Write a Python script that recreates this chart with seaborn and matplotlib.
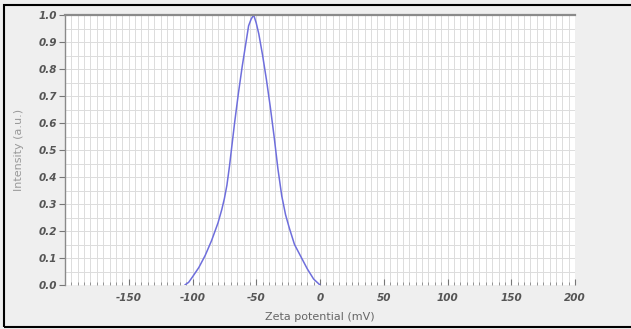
import matplotlib
matplotlib.use("Agg")
import matplotlib.pyplot as plt
from matplotlib.patches import Rectangle
from matplotlib.ticker import MultipleLocator, FixedLocator
import seaborn as sns
import pandas as pd

zeta_mv = [-106, -103, -100, -95, -90, -85, -80, -77, -75, -73, -71, -69, -67, -64, -61, -58,
           -56, -54, -52, -50, -48, -45, -42, -39, -36, -33, -30, -27, -24, -20, -15, -10, -5, 0]
intensity = [0.0, 0.01, 0.03, 0.065, 0.11, 0.165, 0.23, 0.28, 0.32, 0.37, 0.44, 0.52, 0.60, 0.71,
             0.81, 0.90, 0.96, 0.985, 1.0, 0.97, 0.93, 0.85, 0.76, 0.66, 0.55, 0.43, 0.33, 0.26,
             0.21, 0.15, 0.105, 0.06, 0.022, 0.0]
x_ticks = [-150, -100, -50, 0, 50, 100, 150, 200]
y_ticks = [0.0, 0.1, 0.2, 0.3, 0.4, 0.5, 0.6, 0.7, 0.8, 0.9, 1.0]

df = pd.DataFrame({"zeta": zeta_mv, "intensity": intensity})

sns.set_style("white")
fig = plt.figure(figsize=(6.31, 3.29), dpi=100, facecolor="#efefef")
ax = fig.add_axes([65/631, 44/329, 510/631, 270/329])
ax.set_facecolor("white")

sns.lineplot(data=df, x="zeta", y="intensity", ax=ax, color="#6e6edc", linewidth=1.1)

ax.set_xlim(-200, 200)
ax.set_ylim(0, 1.0)
ax.xaxis.set_major_locator(FixedLocator(x_ticks))
ax.yaxis.set_major_locator(FixedLocator(y_ticks))
ax.xaxis.set_minor_locator(MultipleLocator(5))
ax.yaxis.set_minor_locator(MultipleLocator(0.05))
ax.set_xticklabels([str(t) for t in x_ticks])
ax.set_yticklabels([f"{t:.1f}" for t in y_ticks])

ax.grid(True, which="both", color="#dcdcdc", linewidth=0.7)
ax.set_axisbelow(True)

for lab in ax.get_xticklabels() + ax.get_yticklabels():
    lab.set_fontstyle("italic")
    lab.set_fontweight("bold")
    lab.set_color("#555555")
    lab.set_fontsize(7.5)

ax.tick_params(axis="y", which="major", direction="out", length=4, color="#777777", pad=2, left=True)
ax.tick_params(axis="y", which="minor", length=0)
ax.tick_params(axis="x", which="major", direction="in", length=4, color="#777777", pad=6, bottom=True)
ax.tick_params(axis="x", which="minor", direction="in", length=2.5, color="#888888", bottom=True)

ax.spines["right"].set_visible(False)
ax.spines["bottom"].set_visible(False)
ax.spines["top"].set_color("#8a8a8a")
ax.spines["top"].set_linewidth(1.6)
ax.spines["left"].set_color("#8a8a8a")
ax.spines["left"].set_linewidth(1.0)

ax.set_xlabel("Zeta potential (mV)", fontsize=8, color="#666666", labelpad=6)
ax.set_ylabel("Intensity (a.u.)", fontsize=8, color="#999999", labelpad=10)

fig.patches.append(Rectangle((4/631, 2/329), 1.0, 322/329, transform=fig.transFigure,
                             fill=False, edgecolor="black", linewidth=1.5))

fig.savefig("out.png", dpi=100, facecolor=fig.get_facecolor())
